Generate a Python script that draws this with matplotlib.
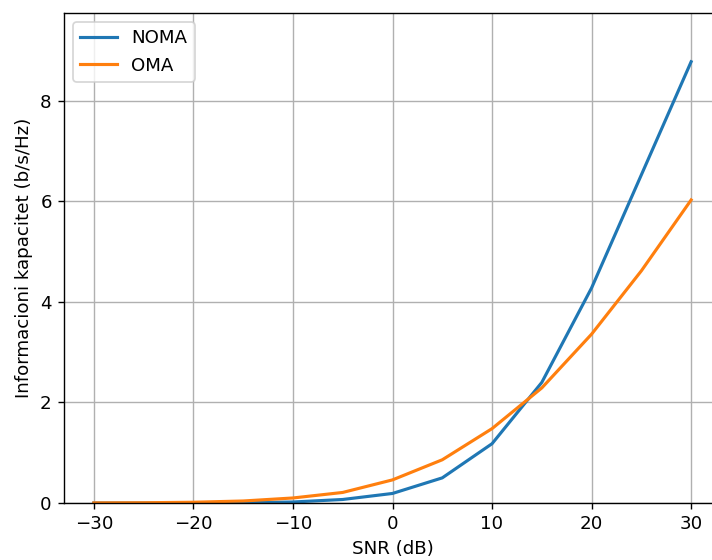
import matplotlib.pyplot as plt

snr_db = [-30, -25, -20, -15, -10, -5, 0, 5, 10, 15, 20, 25, 30]
noma = [0.0, 0.0, 0.0, 0.005, 0.02, 0.07, 0.19, 0.50, 1.18, 2.40, 4.28, 6.53, 8.78]
oma = [0.002, 0.005, 0.015, 0.04, 0.10, 0.21, 0.46, 0.86, 1.48, 2.29, 3.36, 4.62, 6.03]

plt.rcParams["font.size"] = 10.5

# reference looks like a default plot rendered at ~125 dpi
fig = plt.figure(figsize=(712 / 125, 560 / 125), dpi=125)
# the reference is cropped on the right, so the axes run past the figure edge
ax = fig.add_axes([64 / 712, 57 / 560, 657 / 712, 490 / 560])

ax.plot(snr_db, noma, color="#1f77b4", linewidth=1.8, label="NOMA")
ax.plot(snr_db, oma, color="#ff7f0e", linewidth=1.8, label="OMA")

ax.set_xlim(-33, 33)
ax.set_ylim(0, 9.75)
ax.set_xticks([-30, -20, -10, 0, 10, 20, 30])
ax.set_yticks([0, 2, 4, 6, 8])
ax.set_xlabel("SNR (dB)")
ax.set_ylabel("Informacioni kapacitet (b/s/Hz)")
ax.grid(True)
ax.legend(loc="upper left")

fig.savefig("out.png", dpi=125)
